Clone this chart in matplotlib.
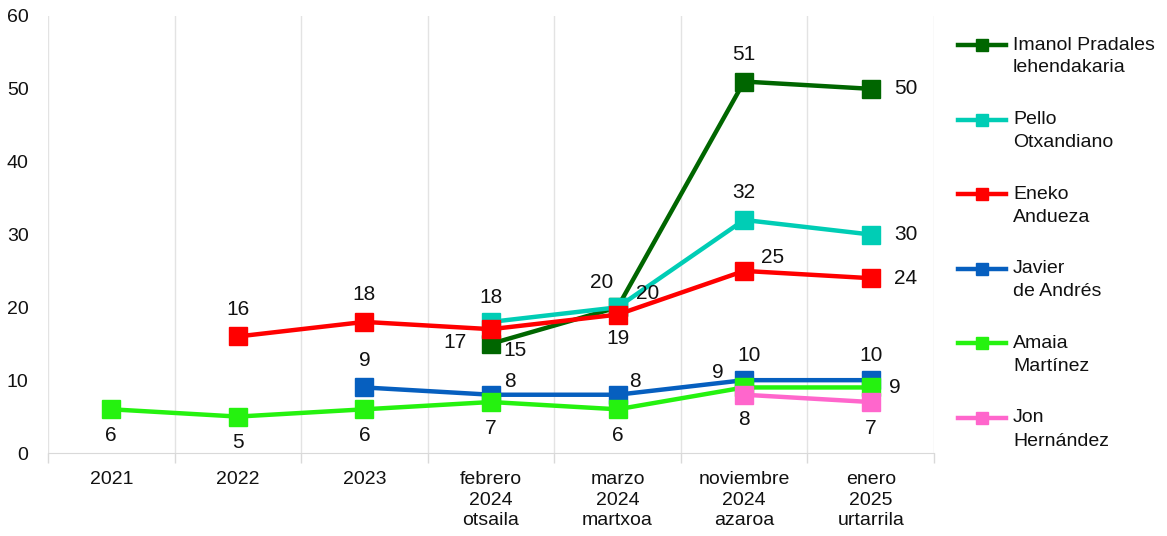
import numpy as np
import matplotlib
matplotlib.use("Agg")
import matplotlib.pyplot as plt
from matplotlib.lines import Line2D

plt.rcParams['font.family'] = ['Liberation Sans', 'DejaVu Sans']

# categories on the x axis
periods = ["2021", "2022", "2023", "febrero\n2024\notsaila", "marzo\n2024\nmartxoa",
           "noviembre\n2024\nazaroa", "enero\n2025\nurtarrila"]

nan = np.nan
names = ["Imanol Pradales\nlehendakaria", "Pello\nOtxandiano", "Eneko\nAndueza",
         "Javier\nde Andrés", "Amaia\nMartínez", "Jon\nHernández"]
pradales = [nan, nan, nan, 15, 20, 51, 50]
otxandiano = [nan, nan, nan, 18, 20, 32, 30]
andueza = [nan, 16, 18, 17, 19, 25, 24]
de_andres = [nan, nan, 9, 8, 8, 10, 10]
martinez = [6, 5, 6, 7, 6, 9, 9]
hernandez = [nan, nan, nan, nan, nan, 8, 7]
series = [pradales, otxandiano, andueza, de_andres, martinez, hernandez]

colors = ["#006600", "#00cdb5", "#ff0000", "#065fbf", "#25f20f", "#ff66cc"]

# label offsets in pixels (dx, dy) for each point, per series
A, B, R = (0, 27), (0, -26), (35, 0)
offsets = [
    [None, None, None, (24, -7), (-16, 25), A, R],
    [None, None, None, (0, 24), (30, 14), A, R],
    [None, A, A, (-36, -13), (0, -24), (28, 13), R],
    [None, None, A, (19, 13), (17, 13), (5, 25), (0, 25)],
    [B, B, B, B, B, (-26, 15), (24, 0)],
    [None, None, None, None, None, (0, -25), (0, -26)],
]

fig = plt.figure(figsize=(11.67, 5.36), dpi=100)
ax = fig.add_axes([48 / 1167, 1 - 453 / 536, (934 - 48) / 1167, (453 - 16) / 536])

x = np.arange(len(periods))
for vals, col in zip(series, colors):
    ax.plot(x, vals, color=col, lw=3.2, marker="s", ms=12.5, zorder=3)

for vals, offs in zip(series, offsets):
    for xi, v, o in zip(x, vals, offs):
        if o is None or np.isnan(v):
            continue
        ax.annotate(f"{v:g}", (xi, v), xytext=o, textcoords="offset pixels",
                    ha="center", va="center", fontsize=15, color="#111111", zorder=5)

ax.set_xlim(-0.5, len(periods) - 0.5)
ax.set_ylim(0, 60)
ax.set_yticks(range(0, 61, 10))
ax.set_xticks(x)
ax.set_xticklabels(periods, linespacing=1.28)
ax.set_xticks(np.arange(-0.5, len(periods), 1), minor=True)
ax.tick_params(axis="x", which="major", length=0, pad=13, labelsize=14, colors="#111111")
ax.tick_params(axis="x", which="minor", length=7, color="#d9d9d9", width=1)
ax.tick_params(axis="y", length=0, pad=14, labelsize=14, colors="#111111")
ax.grid(which="minor", axis="x", color="#e3e3e3", lw=1)
for s in ["top", "right", "left"]:
    ax.spines[s].set_visible(False)
ax.spines["bottom"].set_color("#d9d9d9")

# legend on the right
for i, (nm, col) in enumerate(zip(names, colors)):
    yc = 45 + i * 74.6
    yf = 1 - yc / 536
    fig.add_artist(Line2D([958 / 1167, 1006 / 1167], [yf, yf], color=col, lw=3.2,
                          transform=fig.transFigure))
    fig.add_artist(Line2D([982 / 1167], [yf], color=col, marker="s", ms=8.5, lw=0,
                          transform=fig.transFigure))
    for j, part in enumerate(nm.split("\n")):
        fig.text(1013 / 1167, 1 - (yc + j * 23) / 536, part, ha="left", va="center",
                 fontsize=14, color="#111111")

fig.savefig("out.png", dpi=100)
